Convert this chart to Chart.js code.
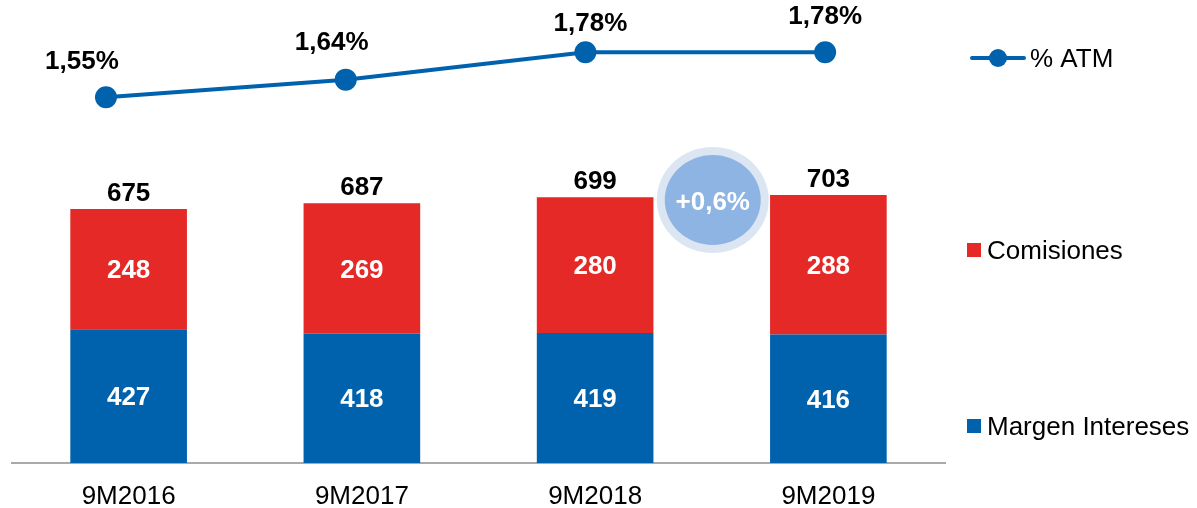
<!DOCTYPE html>
<html lang="es">
<head>
    <meta charset="UTF-8">
    <title>Margen Intereses y Comisiones</title>
    <script src="https://cdn.jsdelivr.net/npm/chart.js"></script>
    <style>
        html, body { margin: 0; padding: 0; background: #fff; }
        canvas { display: block; }
    </style>
</head>
<body>
    <canvas id="chart" width="1197" height="508"></canvas>

    <script>
        // Data
        const periods = ['9M2016', '9M2017', '9M2018', '9M2019'];
        const margenIntereses = [427, 418, 419, 416];
        const comisiones = [248, 269, 280, 288];
        const totals = [675, 687, 699, 703];
        const atm = [1.55, 1.64, 1.78, 1.78];
        const growthLabel = '+0,6%';

        // Styling
        const FONT = 'Arial, "Liberation Sans", sans-serif';
        const BLUE = '#0061ad';
        const RED = '#e42927';
        // small nudges for the % labels above the line points
        const atmLabelDx = [-24, -14, 5, 0];
        const atmLabelDy = [-35, -37, -28, -35];

        const fmtPct = v => v.toFixed(2).replace('.', ',') + '%';

        // force the exact range on a hidden helper axis
        const fixRange = (min, max) => scale => { scale.min = min; scale.max = max; };

        // Value labels, totals and the growth bubble
        const labelsPlugin = {
            id: 'valueLabels',
            afterDatasetsDraw(chart) {
                const ctx = chart.ctx;
                const area = chart.chartArea;
                ctx.save();
                ctx.font = 'bold 26px ' + FONT;
                ctx.textAlign = 'center';
                ctx.textBaseline = 'middle';

                // numbers inside the segments (centered on the visible part)
                [0, 1].forEach(di => {
                    const vals = chart.data.datasets[di].data;
                    chart.getDatasetMeta(di).data.forEach((bar, i) => {
                        const top = Math.max(bar.y, area.top);
                        const bottom = Math.min(bar.base, area.bottom);
                        ctx.fillStyle = '#fff';
                        ctx.fillText(vals[i], bar.x, (top + bottom) / 2 + 2);
                    });
                });

                // totals above the stacks
                chart.getDatasetMeta(1).data.forEach((bar, i) => {
                    ctx.fillStyle = '#000';
                    ctx.fillText(totals[i], bar.x, bar.y - 15);
                });

                // % ATM labels
                chart.getDatasetMeta(2).data.forEach((pt, i) => {
                    ctx.fillStyle = '#000';
                    ctx.fillText(fmtPct(atm[i]), pt.x + atmLabelDx[i], pt.y + atmLabelDy[i]);
                });

                // growth bubble between the last two bars
                const bars = chart.getDatasetMeta(1).data;
                const bx = (bars[2].x + bars[3].x) / 2 + 1;
                const by = area.top + 200;
                ctx.fillStyle = '#dce6f2';
                ctx.beginPath();
                ctx.ellipse(bx, by, 56, 53, 0, 0, Math.PI * 2);
                ctx.fill();
                ctx.fillStyle = '#8eb4e3';
                ctx.beginPath();
                ctx.ellipse(bx, by, 48, 45, 0, 0, Math.PI * 2);
                ctx.fill();
                ctx.fillStyle = '#fff';
                ctx.fillText(growthLabel, bx, by + 3);

                ctx.restore();
            }
        };

        // Legend on the right, each item next to its series
        const sideLegend = {
            id: 'sideLegend',
            afterDraw(chart) {
                const ctx = chart.ctx;
                ctx.save();
                ctx.font = '26px ' + FONT;
                ctx.textBaseline = 'middle';
                ctx.textAlign = 'left';

                // % ATM
                ctx.strokeStyle = BLUE;
                ctx.lineWidth = 4;
                ctx.lineCap = 'round';
                ctx.beginPath();
                ctx.moveTo(972, 58);
                ctx.lineTo(1024, 58);
                ctx.stroke();
                ctx.fillStyle = BLUE;
                ctx.beginPath();
                ctx.arc(998, 58, 9, 0, Math.PI * 2);
                ctx.fill();
                ctx.fillStyle = '#000';
                ctx.fillText('% ATM', 1030, 60);

                // Comisiones
                ctx.fillStyle = RED;
                ctx.fillRect(967, 243, 14, 14);
                ctx.fillStyle = '#000';
                ctx.fillText('Comisiones', 987, 252);

                // Margen Intereses
                ctx.fillStyle = BLUE;
                ctx.fillRect(967, 419, 14, 14);
                ctx.fillStyle = '#000';
                ctx.fillText('Margen Intereses', 987, 428);

                ctx.restore();
            }
        };

        const ctx = document.getElementById('chart').getContext('2d');

        const chart = new Chart(ctx, {
            type: 'bar',
            data: {
                labels: periods,
                datasets: [
                    {
                        label: 'Margen Intereses',
                        data: margenIntereses,
                        backgroundColor: BLUE,
                        grouped: false,
                        clip: 0,
                        order: 2
                    },
                    {
                        label: 'Comisiones',
                        data: comisiones,
                        backgroundColor: RED,
                        grouped: false,
                        clip: 0,
                        order: 2
                    },
                    {
                        type: 'line',
                        label: '% ATM',
                        data: atm.map((v, i) => ({ x: i, y: v })),
                        xAxisID: 'x2',
                        yAxisID: 'y1',
                        borderColor: BLUE,
                        backgroundColor: BLUE,
                        borderWidth: 4,
                        pointRadius: 11,
                        pointBorderWidth: 0,
                        tension: 0,
                        order: 1
                    }
                ]
            },
            options: {
                responsive: false,
                animation: false,
                layout: { autoPadding: false, padding: { left: 12, right: 252, top: 0, bottom: 0 } },
                datasets: {
                    bar: { barPercentage: 0.5, categoryPercentage: 1 }
                },
                plugins: {
                    legend: { display: false },
                    tooltip: { enabled: false }
                },
                scales: {
                    x: {
                        stacked: true,
                        grid: { display: false, drawTicks: false },
                        border: { display: true, color: '#a9a9a9', width: 2 },
                        ticks: {
                            color: '#000',
                            font: { family: FONT, size: 26 },
                            padding: 18,
                            maxRotation: 0
                        },
                        afterFit(scale) { scale.height = 45; }
                    },
                    y: {
                        stacked: true,
                        display: false,
                        bounds: 'data',
                        min: 151,
                        max: 1106,
                        afterBuildTicks: fixRange(151, 1106)
                    },
                    x2: {
                        type: 'linear',
                        display: false,
                        offset: false,
                        grid: { offset: false },
                        bounds: 'data',
                        min: -0.392,
                        max: 3.5,
                        afterBuildTicks: fixRange(-0.392, 3.5)
                    },
                    y1: {
                        type: 'linear',
                        display: false,
                        bounds: 'data',
                        min: -0.319,
                        max: 2.047,
                        afterBuildTicks: fixRange(-0.319, 2.047)
                    }
                }
            },
            plugins: [labelsPlugin, sideLegend]
        });
    </script>
</body>
</html>
